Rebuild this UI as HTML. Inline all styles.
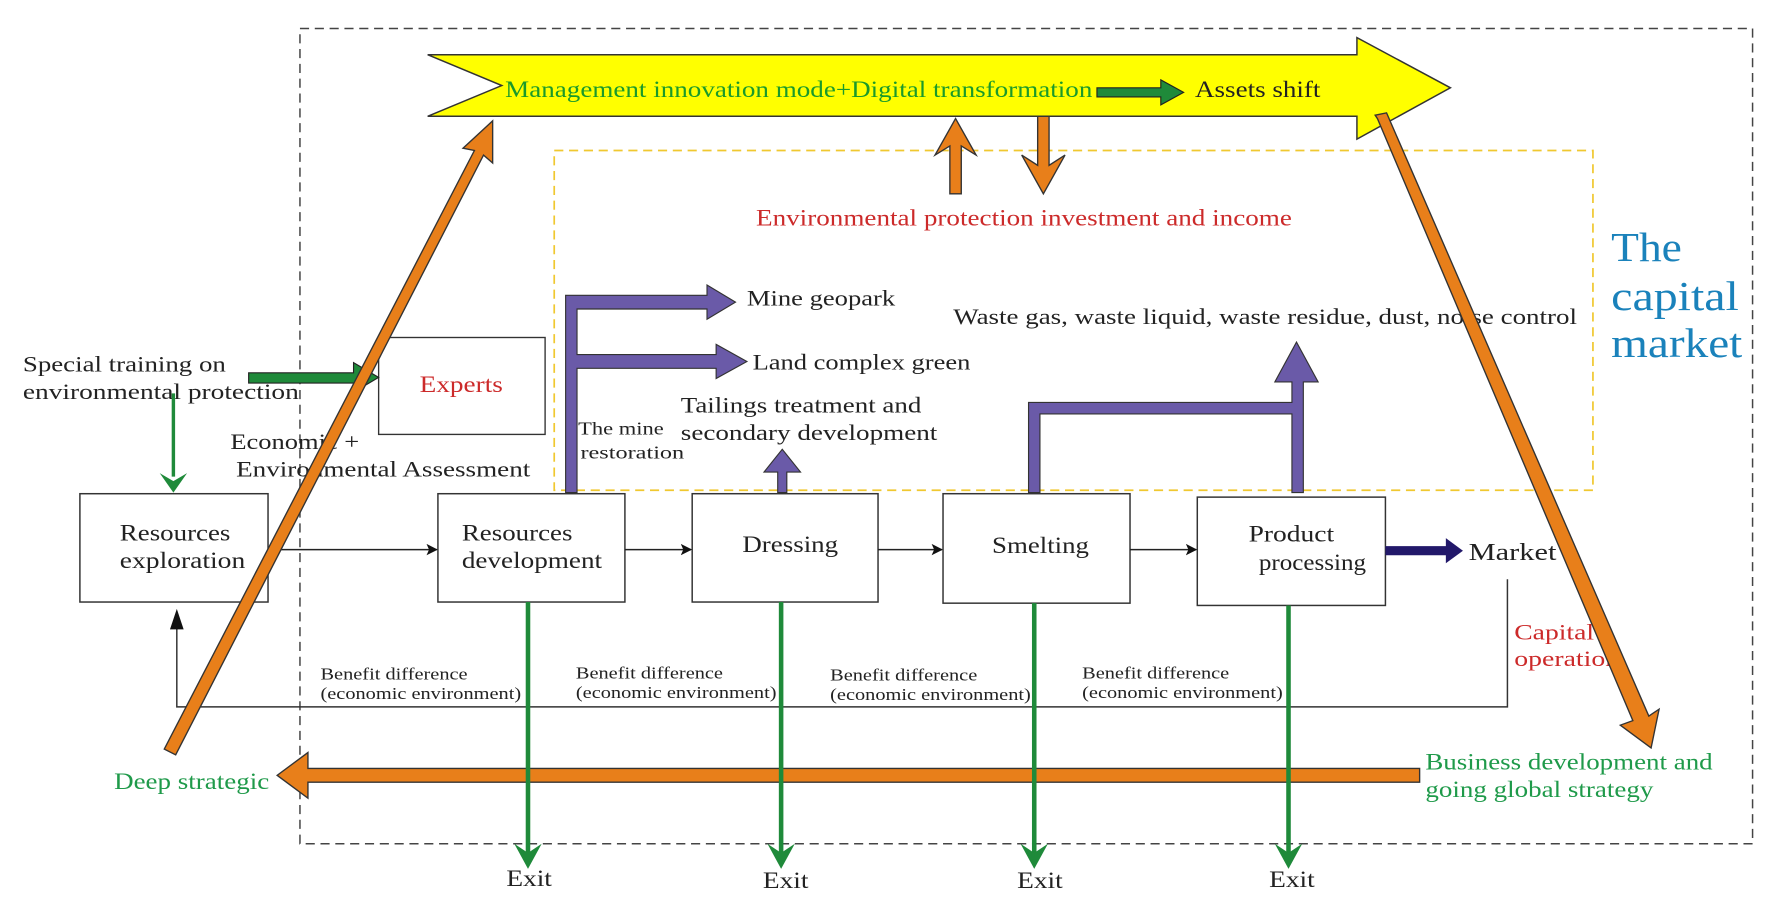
<!DOCTYPE html>
<html><head><meta charset="utf-8"><style>
html,body{margin:0;padding:0;background:#fff}
svg{display:block}
text{font-family:"Liberation Serif",serif}
</style></head><body>
<svg width="1788" height="919" viewBox="0 0 1568 806" xmlns="http://www.w3.org/2000/svg">
<defs>
<marker id="blk" markerWidth="10" markerHeight="10" refX="9" refY="5" orient="auto" markerUnits="userSpaceOnUse"><path d="M0,0 L18,5 L0,10 L4,5z" fill="#111" transform="scale(0.55,1)"/></marker>
</defs>
<rect x="263" y="25" width="1274" height="715" fill="none" stroke="#444" stroke-width="1.3" stroke-dasharray="8,5"/>
<rect x="486" y="132" width="911" height="298" fill="none" stroke="#f0c830" stroke-width="1.5" stroke-dasharray="8,5"/>
<path d="M375,48 L1190,48 L1190,33 L1272,77 L1190,122 L1190,102 L375,102 L440,75 Z" fill="#ffff00" stroke="#333" stroke-width="1.3"/>
<text x="443" y="85" font-size="20" fill="#1a9a2a" textLength="515" lengthAdjust="spacingAndGlyphs">Management innovation mode+Digital transformation</text>
<path d="M962,77 L1018,77 L1018,70 L1038,81 L1018,92 L1018,85 L962,85Z" fill="#1f8a3a" stroke="#222" stroke-width="1"/>
<text x="1048" y="85" font-size="20" fill="#222" textLength="110" lengthAdjust="spacingAndGlyphs">Assets shift</text>
<path d="M833,170 L833,128 L820,136 L838,104 L856,136 L843,128 L843,170Z" fill="#e87f1a" stroke="#333" stroke-width="1.2"/>
<path d="M910,102 L920,102 L920,145 L934,136 L915,170 L896,136 L910,145Z" fill="#e87f1a" stroke="#333" stroke-width="1.2"/>
<text x="663" y="198" font-size="20" fill="#cc2a2a" textLength="470" lengthAdjust="spacingAndGlyphs">Environmental protection investment and income</text>
<text x="1413" y="229" font-size="36" fill="#1a82bb" textLength="62" lengthAdjust="spacingAndGlyphs">The</text>
<text x="1413" y="272" font-size="36" fill="#1a82bb" textLength="112" lengthAdjust="spacingAndGlyphs">capital</text>
<text x="1413" y="313" font-size="36" fill="#1a82bb" textLength="115" lengthAdjust="spacingAndGlyphs">market</text>
<path d="M496,432 L496,259 L620,259 L620,250 L645,265 L620,280 L620,271 L506,271 L506,311 L628,311 L628,302 L655,317 L628,332 L628,323 L506,323 L506,432Z" fill="#6a5aa8" stroke="#333" stroke-width="1"/>
<text x="655" y="268" font-size="19" fill="#222" textLength="130" lengthAdjust="spacingAndGlyphs">Mine geopark</text>
<text x="660" y="324" font-size="19" fill="#222" textLength="191" lengthAdjust="spacingAndGlyphs">Land complex green</text>
<text x="597" y="362" font-size="19" fill="#222" textLength="211" lengthAdjust="spacingAndGlyphs">Tailings treatment and</text>
<text x="597" y="386" font-size="19" fill="#222" textLength="225" lengthAdjust="spacingAndGlyphs">secondary development</text>
<text x="507" y="381" font-size="16" fill="#222" textLength="75" lengthAdjust="spacingAndGlyphs">The mine</text>
<text x="509" y="402" font-size="16" fill="#222" textLength="91" lengthAdjust="spacingAndGlyphs">restoration</text>
<path d="M682,432 L682,414 L670,414 L686,394 L702,414 L690,414 L690,432Z" fill="#6a5aa8" stroke="#333" stroke-width="1"/>
<path d="M902,432 L902,353 L1133,353 L1133,335 L1118,335 L1137,300 L1156,335 L1143,335 L1143,432 L1133,432 L1133,363 L912,363 L912,432Z" fill="#6a5aa8" stroke="#333" stroke-width="1"/>
<text x="836" y="284" font-size="19" fill="#222" textLength="547" lengthAdjust="spacingAndGlyphs">Waste gas, waste liquid, waste residue, dust, noise control</text>
<rect x="332" y="296" width="146" height="85" fill="#fff" stroke="#333" stroke-width="1.2"/>
<text x="368" y="344" font-size="20" fill="#cc2a2a" textLength="73" lengthAdjust="spacingAndGlyphs">Experts</text>
<text x="20" y="326" font-size="19" fill="#222" textLength="178" lengthAdjust="spacingAndGlyphs">Special training on</text>
<text x="20" y="350" font-size="19" fill="#222" textLength="242" lengthAdjust="spacingAndGlyphs">environmental protection</text>
<text x="202" y="394" font-size="19" fill="#222" textLength="113" lengthAdjust="spacingAndGlyphs">Economic +</text>
<text x="207" y="418" font-size="19" fill="#222" textLength="258" lengthAdjust="spacingAndGlyphs">Environmental Assessment</text>
<path d="M218,327 L310,327 L310,318 L332,331 L310,344 L310,336 L218,336Z" fill="#1f8a3a" stroke="#222" stroke-width="1"/>
<line x1="152" y1="345" x2="152" y2="418" stroke="#1f8a3a" stroke-width="3"/>
<path d="M140,415 L152,432 L164,415 L152,422Z" fill="#1f8a3a"/>
<g fill="#fff" stroke="#333" stroke-width="1.3">
<rect x="70" y="433" width="165" height="95"/>
<rect x="384" y="433" width="164" height="95"/>
<rect x="607" y="433" width="163" height="95"/>
<rect x="827" y="433" width="164" height="96"/>
<rect x="1050" y="436" width="165" height="95"/>
</g>
<g font-size="20" fill="#222" lengthAdjust="spacingAndGlyphs">
<text x="105" y="474" textLength="97" lengthAdjust="spacingAndGlyphs">Resources</text><text x="105" y="498" textLength="110" lengthAdjust="spacingAndGlyphs">exploration</text>
<text x="405" y="474" textLength="97" lengthAdjust="spacingAndGlyphs">Resources</text><text x="405" y="498" textLength="123" lengthAdjust="spacingAndGlyphs">development</text>
<text x="651" y="484" textLength="84" lengthAdjust="spacingAndGlyphs">Dressing</text>
<text x="870" y="485" textLength="85" lengthAdjust="spacingAndGlyphs">Smelting</text>
<text x="1095" y="475" textLength="75" lengthAdjust="spacingAndGlyphs">Product</text><text x="1104" y="500" textLength="94" lengthAdjust="spacingAndGlyphs">processing</text>
</g>
<g stroke="#222" stroke-width="1.3" marker-end="url(#blk)">
<line x1="235" y1="482" x2="383" y2="482"/>
<line x1="548" y1="482" x2="606" y2="482"/>
<line x1="770" y1="482" x2="826" y2="482"/>
<line x1="991" y1="482" x2="1049" y2="482"/>
</g>
<path d="M1215,479 L1268,479 L1268,472 L1283,483 L1268,494 L1268,487 L1215,487Z" fill="#22186a"/>
<text x="1288" y="491" font-size="21" fill="#222" textLength="77" lengthAdjust="spacingAndGlyphs">Market</text>
<polyline points="1322,508 1322,620 155,620 155,545" fill="none" stroke="#333" stroke-width="1.3"/>
<path d="M149,552 L155,534 L161,552Z" fill="#111"/>
<text x="1328" y="561" font-size="19" fill="#cc2a2a" textLength="70" lengthAdjust="spacingAndGlyphs">Capital</text>
<text x="1328" y="584" font-size="19" fill="#cc2a2a" textLength="92" lengthAdjust="spacingAndGlyphs">operation</text>
<g font-size="15" fill="#222">
<text x="281" y="596" textLength="129" lengthAdjust="spacingAndGlyphs">Benefit difference</text><text x="281" y="613" textLength="176" lengthAdjust="spacingAndGlyphs">(economic environment)</text>
<text x="505" y="595" textLength="129" lengthAdjust="spacingAndGlyphs">Benefit difference</text><text x="505" y="612" textLength="176" lengthAdjust="spacingAndGlyphs">(economic environment)</text>
<text x="728" y="597" textLength="129" lengthAdjust="spacingAndGlyphs">Benefit difference</text><text x="728" y="614" textLength="176" lengthAdjust="spacingAndGlyphs">(economic environment)</text>
<text x="949" y="595" textLength="129" lengthAdjust="spacingAndGlyphs">Benefit difference</text><text x="949" y="612" textLength="176" lengthAdjust="spacingAndGlyphs">(economic environment)</text>
</g>
<path d="M1245,674 L270,674 L270,660 L243,680 L270,700 L270,686 L1245,686Z" fill="#e87f1a" stroke="#333" stroke-width="1.2"/>
<g stroke="#1f8a3a" stroke-width="4">
<line x1="463" y1="528" x2="463" y2="750"/>
<line x1="685" y1="528" x2="685" y2="750"/>
<line x1="907" y1="529" x2="907" y2="750"/>
<line x1="1130" y1="531" x2="1130" y2="750"/>
</g>
<g fill="#1f8a3a">
<path d="M451,740 L463,762 L475,740 L463,748Z"/>
<path d="M673,740 L685,762 L697,740 L685,748Z"/>
<path d="M895,740 L907,762 L919,740 L907,748Z"/>
<path d="M1118,740 L1130,762 L1142,740 L1130,748Z"/>
</g>
<g font-size="20" fill="#222">
<text x="444" y="777" textLength="40" lengthAdjust="spacingAndGlyphs">Exit</text><text x="669" y="779" textLength="40" lengthAdjust="spacingAndGlyphs">Exit</text><text x="892" y="779" textLength="40" lengthAdjust="spacingAndGlyphs">Exit</text><text x="1113" y="778" textLength="40" lengthAdjust="spacingAndGlyphs">Exit</text>
</g>
<text x="100" y="692" font-size="20" fill="#1f9a4a" textLength="136" lengthAdjust="spacingAndGlyphs">Deep strategic</text>
<text x="1250" y="675" font-size="20" fill="#1f9a4a" textLength="252" lengthAdjust="spacingAndGlyphs">Business development and</text>
<text x="1250" y="699" font-size="20" fill="#1f9a4a" textLength="200" lengthAdjust="spacingAndGlyphs">going global strategy</text>
<path d="M144,657 L416,132 L406,130 L432,106 L432,143 L424,136 L154,662Z" fill="#e87f1a" stroke="#333" stroke-width="1.2"/>
<path d="M1206,101 L1216,99 L1446,628 L1455,622 L1448,656 L1421,636 L1432,632 L1208,104Z" fill="#e87f1a" stroke="#333" stroke-width="1.2"/>
</svg>
</body></html>
